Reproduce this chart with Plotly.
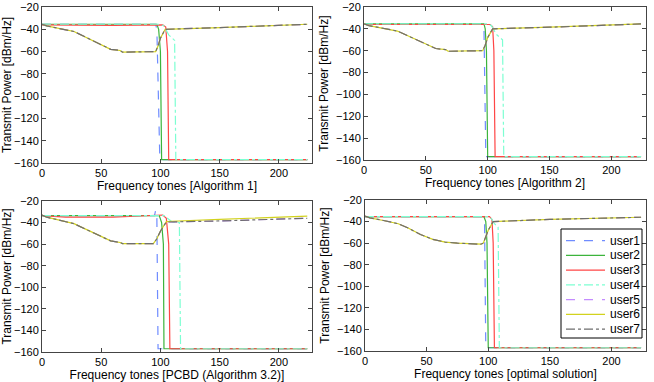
import plotly.graph_objects as go

# ---- data (tone index, dBm/Hz) ----
FLOOR = -157

# Algorithm 1
a1_u1_x = [0, 96, 97, 99.5, 224]
a1_u1_y = [-35.5, -35.5, -40, FLOOR, FLOOR]
a1_u2_x = [0, 97, 98.5, 100, 101, 224]
a1_u2_y = [-35.5, -35.5, -40, -60, FLOOR, FLOOR]
a1_u3_x = [0, 60, 102, 104.5, 106, 107, 224]
a1_u3_y = [-36, -36.5, -36, -38, -60, FLOOR, FLOOR]
a1_u4_x = [0, 100, 103, 107, 112, 113, 224]
a1_u4_y = [-35.5, -35.5, -37, -45, -50, FLOOR, FLOOR]
a1_b_x = [0, 4, 27, 40, 50, 58, 66, 68, 96, 98, 100, 104, 150, 224]
a1_b_y = [-35.5, -37, -42, -49, -54, -58, -59, -60.5, -60, -55, -48, -40, -38.5, -35.5]

# Algorithm 2
a2_u1_x = [0, 96, 97, 98.5, 224]
a2_u1_y = [-35.5, -35.5, -40, FLOOR, FLOOR]
a2_u2_x = [0, 97, 98, 99, 100, 224]
a2_u2_y = [-35.5, -35.5, -40, -60, FLOOR, FLOOR]
a2_u3_x = [0, 102, 104, 105, 106, 224]
a2_u3_y = [-36, -36, -38, -60, FLOOR, FLOOR]
a2_u4_x = [0, 100, 103, 107, 112, 113, 224]
a2_u4_y = [-35.5, -35.5, -37, -45, -50, FLOOR, FLOOR]
a2_b_x = [0, 4, 27, 40, 50, 58, 66, 68, 96, 98, 100, 104, 150, 224]
a2_b_y = [-35.5, -37, -42, -49, -54, -58, -59, -60.5, -60, -55, -48, -40, -38.5, -35.5]

# PCBD (Algorithm 3.2)
a3_u1_x = [0, 95, 96, 97, 98, 224]
a3_u1_y = [-33.5, -33.5, -28.5, -36, FLOOR, FLOOR]
a3_u2_x = [0, 99, 101, 102.5, 103, 224]
a3_u2_y = [-33.5, -33.5, -40, -60, FLOOR, FLOOR]
a3_u3_x = [0, 20, 60, 90, 102, 105, 107, 108, 224]
a3_u3_y = [-33.5, -35, -35, -34, -33, -36, -60, FLOOR, FLOOR]
a3_u4_x = [0, 103, 107, 110, 116, 117, 224]
a3_u4_y = [-33.5, -33.5, -37, -39.5, -40, FLOOR, FLOOR]
a3_b_x = [0, 4, 27, 40, 50, 58, 66, 68, 94, 97, 100, 105, 150, 224]
a3_b_y = [-33, -35, -41, -48, -53, -57, -58.5, -59.5, -59.5, -55, -48, -39.5, -38.5, -36]
a3_u6_y = [-33, -35, -41, -48, -53, -57, -58.5, -59.5, -59.5, -55, -48, -39, -37, -34]

# optimal solution
op_u1_x = [0, 96, 97, 98, 224]
op_u1_y = [-35.5, -35.5, -40, FLOOR, FLOOR]
op_u2_x = [0, 96.5, 98, 99, 100, 224]
op_u2_y = [-35.5, -35.5, -40, -60, FLOOR, FLOOR]
op_u3_x = [0, 101, 103, 104, 105, 224]
op_u3_y = [-35.5, -35.5, -38, -60, FLOOR, FLOOR]
op_u4_x = [0, 101, 103, 105, 108, 109, 224]
op_u4_y = [-35.5, -35.5, -38, -42, -45, FLOOR, FLOOR]
op_b_x = [0, 4, 15, 27, 35, 45, 55, 65, 75, 85, 94, 96, 98, 100, 104, 150, 224]
op_b_y = [-35, -36.5, -39, -42, -46, -52, -56.5, -59, -60, -60.5, -61, -60, -54, -48, -40, -38, -36]

users = ['user1', 'user2', 'user3', 'user4', 'user5', 'user6', 'user7']
colors = ['#6f8cff', '#3cb43c', '#ff4646', '#7dffd2', '#c48cff', '#d2d21e', '#6e6e6e']
dashes = ['dash', 'solid', 'solid', 'dashdot', 'dash', 'solid', 'dashdot']

panels = [
    ([(a1_u1_x, a1_u1_y), (a1_u2_x, a1_u2_y), (a1_u3_x, a1_u3_y), (a1_u4_x, a1_u4_y),
      (a1_b_x, a1_b_y), (a1_b_x, a1_b_y), (a1_b_x, a1_b_y)], 'Frequency tones [Algorithm 1]'),
    ([(a2_u1_x, a2_u1_y), (a2_u2_x, a2_u2_y), (a2_u3_x, a2_u3_y), (a2_u4_x, a2_u4_y),
      (a2_b_x, a2_b_y), (a2_b_x, a2_b_y), (a2_b_x, a2_b_y)], 'Frequency tones [Algorithm 2]'),
    ([(a3_u1_x, a3_u1_y), (a3_u2_x, a3_u2_y), (a3_u3_x, a3_u3_y), (a3_u4_x, a3_u4_y),
      (a3_b_x, a3_b_y), (a3_b_x, a3_u6_y), (a3_b_x, a3_b_y)], 'Frequency tones [PCBD (Algorithm 3.2)]'),
    ([(op_u1_x, op_u1_y), (op_u2_x, op_u2_y), (op_u3_x, op_u3_y), (op_u4_x, op_u4_y),
      (op_b_x, op_b_y), (op_b_x, op_b_y), (op_b_x, op_b_y)], 'Frequency tones [optimal solution]'),
]

W, H = 654, 382
# plot boxes in pixels: left, right, top, bottom
boxes = [(42, 312, 7, 163), (364, 646, 7, 160), (42, 312, 201, 352), (365, 646, 200, 351)]

fig = go.Figure()
FONT = 'Liberation Sans, Arial, sans-serif'
font = dict(family=FONT, size=12, color='black')
tickfont = dict(family=FONT, size=11, color='black')

for i, (series, xtitle) in enumerate(panels):
    n = '' if i == 0 else str(i + 1)
    for k, (xs, ys) in enumerate(series):
        fig.add_trace(go.Scatter(
            x=xs, y=ys, mode='lines', name=users[k],
            line=dict(color=colors[k], dash=dashes[k], width=1.2),
            xaxis='x' + n, yaxis='y' + n, showlegend=False,
        ))
    l, r, t, b = boxes[i]
    fig.layout['xaxis' + n] = dict(
        domain=[l / W, r / W], anchor='y' + n, range=[0, 228], automargin=False,
        tickvals=[0, 50, 100, 150, 200], ticks='inside', ticklen=4,
        showline=True, mirror='ticks', linecolor='#444', linewidth=1,
        showgrid=False, zeroline=False, tickfont=tickfont,
        title=dict(text=xtitle, font=dict(size=12), standoff=2),
    )
    fig.layout['yaxis' + n] = dict(
        domain=[1 - b / H, 1 - t / H], anchor='x' + n, range=[-160, -20], automargin=False,
        tickvals=[-160, -140, -120, -100, -80, -60, -40, -20], ticks='inside', ticklen=4,
        showline=True, mirror='ticks', linecolor='#444', linewidth=1,
        showgrid=False, zeroline=False, tickfont=tickfont,
        title=dict(text='Transmit Power [dBm/Hz]', font=dict(size=12), standoff=4),
    )

# legend box drawn in the bottom-right panel (MATLAB-style compact rows)
lg_l, lg_r, lg_t, lg_b = 561, 642, 229, 338
row0, row_h = 240.7, 14.75
fig.add_shape(type='rect', xref='paper', yref='paper',
              x0=lg_l / W, x1=lg_r / W, y0=1 - lg_b / H, y1=1 - lg_t / H,
              line=dict(color='black', width=1), fillcolor='white', layer='above')
for k, u in enumerate(users):
    yy = 1 - (row0 + k * row_h) / H
    fig.add_shape(type='line', xref='paper', yref='paper',
                  x0=566 / W, x1=605 / W, y0=yy, y1=yy, layer='above',
                  line=dict(color=colors[k], dash=dashes[k], width=1.2))
    fig.add_annotation(text=u, xref='paper', yref='paper', x=608 / W, y=yy,
                       xanchor='left', yanchor='middle', showarrow=False,
                       font=dict(family=FONT, size=12, color='black'))

fig.update_layout(
    width=W, height=H, margin=dict(l=0, r=0, t=0, b=0),
    paper_bgcolor='white', plot_bgcolor='white',
    font=font, showlegend=False,
)

# page body has a default 8px margin; drop it so the figure sits at (0, 0)
fig.write_html('out.html', config={'displayModeBar': False},
               post_script="document.body.style.margin='0';document.body.style.overflow='hidden';")
